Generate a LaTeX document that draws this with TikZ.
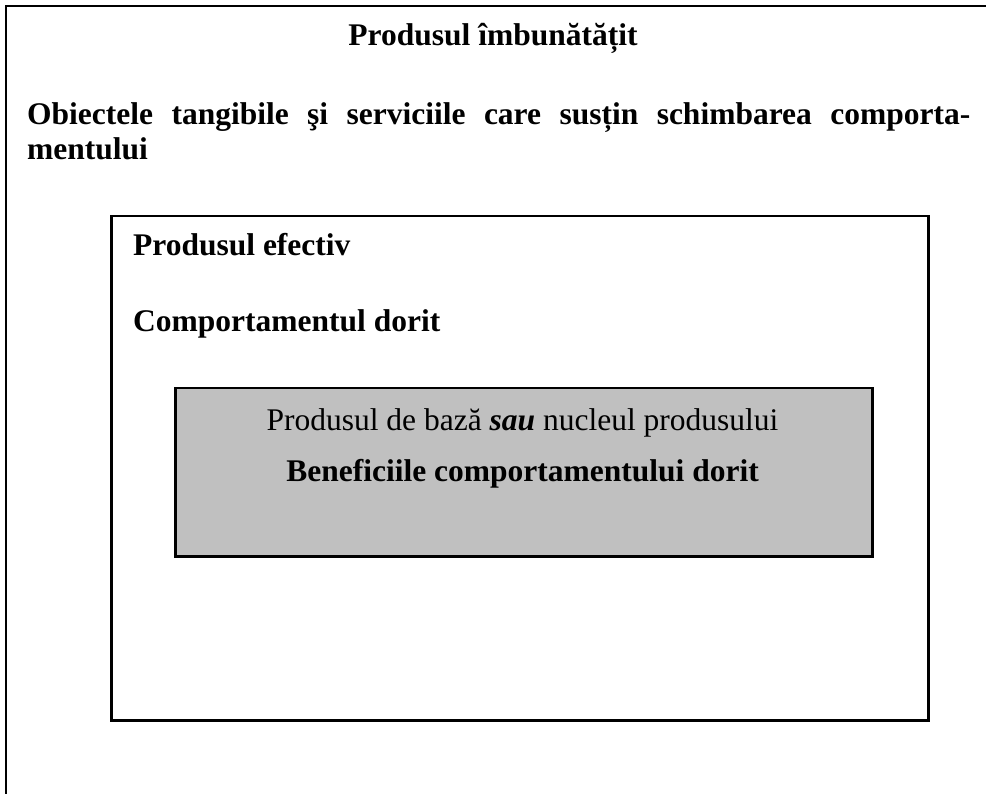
\documentclass[tikz,border=0pt]{standalone}
\usepackage{fontspec}
\setmainfont{Liberation Serif}
\definecolor{corefill}{HTML}{C0C0C0}
\begin{document}
\begin{tikzpicture}[x=1pt,y=-1pt,
  frame/.style={draw=black,line width=2.5pt},
  label/.style={inner sep=0pt,font=\fontsize{31.5}{37}\selectfont\bfseries},
  plain/.style={inner sep=0pt,font=\fontsize{31.5}{37}\selectfont}]
  \useasboundingbox (0,0) rectangle (986,794);
  \clip (0,0) rectangle (986,794);
  % outer frame: enhanced product (right and bottom edges lie off the page)
  \draw[frame,line width=2.8pt] (6,820) -- (6,6) -- (1000,6);
  \node[label,anchor=base] (title) at (493,46) {Produsul îmbunătățit};
  \node[label,anchor=base west] (desc1) at (27,125)
    {\makebox[943pt][s]{Obiectele tangibile şi serviciile care susțin schimbarea comporta-}};
  \node[label,anchor=base west] (desc2) at (27,160) {mentului};
  % actual product
  \node[frame,draw,inner sep=0pt,minimum width=817pt,minimum height=504pt,anchor=north west] (actual) at (110,215) {};
  \node[label,anchor=base west] (actualname) at (133,256) {Produsul efectiv};
  \node[label,anchor=base west] (behaviour) at (133,332) {Comportamentul dorit};
  % core product
  \node[frame,draw,fill=corefill,inner sep=0pt,minimum width=697pt,minimum height=168pt,anchor=north west] (core) at (174,387) {};
  \node[plain,anchor=base] (corename) at (522.5,431) {Produsul de bază \textbf{\textit{sau}} nucleul produsului};
  \node[label,anchor=base] (benefits) at (522.5,481) {Beneficiile comportamentului dorit};
\end{tikzpicture}
\end{document}
